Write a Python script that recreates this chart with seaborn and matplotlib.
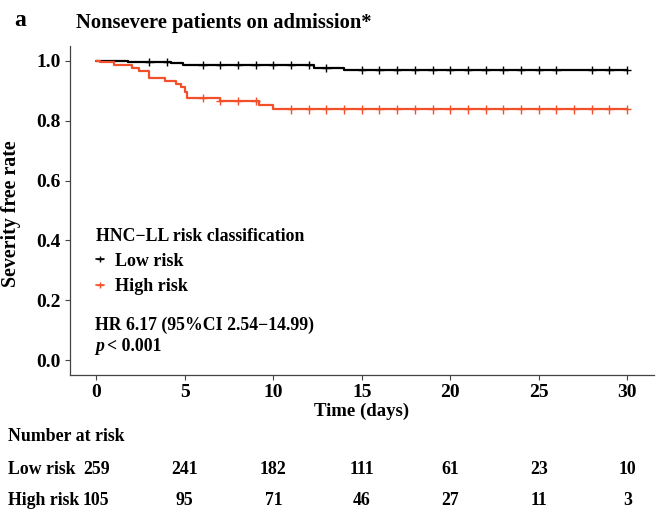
import numpy as np
import pandas as pd
import seaborn as sns
import matplotlib.pyplot as plt
from matplotlib.lines import Line2D
from matplotlib.transforms import blended_transform_factory

# survival curves (step points)
low_times = [0, 1.8, 4.2, 4.9, 12.3, 14.0, 30]
low_surv = [1.0, 0.997, 0.994, 0.986, 0.976, 0.969, 0.969]
high_times = [0, 0.2, 1.0, 2.0, 2.4, 3.0, 3.9, 4.5, 4.8, 5.0, 5.1, 7.0, 9.2, 10.0, 30]
high_surv = [1.0, 0.995, 0.985, 0.976, 0.967, 0.943, 0.933, 0.924, 0.914, 0.895,
             0.876, 0.867, 0.852, 0.838, 0.838]

# censoring times
low_censor = [3, 4, 6, 7, 8, 9, 10, 11, 12, 13, 15, 16, 17, 18, 19, 20, 21, 22,
              23, 24, 25, 26, 28, 29, 30]
high_censor = [6, 7, 8, 9, 11, 12, 13, 14, 15, 16, 17, 18, 19, 20, 21, 22, 23,
               24, 25, 26, 27, 28, 29, 30]

# number at risk table
risk_times = [0, 5, 10, 15, 20, 25, 30]
low_at_risk = [259, 241, 182, 111, 61, 23, 10]
high_at_risk = [105, 95, 71, 46, 27, 11, 3]

groups = ['Low risk', 'High risk']
colors = {'Low risk': 'black', 'High risk': '#F1502A'}

curves = pd.concat([
    pd.DataFrame({'time': low_times, 'surv': low_surv, 'group': 'Low risk'}),
    pd.DataFrame({'time': high_times, 'surv': high_surv, 'group': 'High risk'}),
])


def at(times, surv, c):
    idx = np.searchsorted(times, c, side='right') - 1
    return np.array(surv)[idx]


cens = pd.concat([
    pd.DataFrame({'time': low_censor, 'surv': at(low_times, low_surv, low_censor),
                  'group': 'Low risk'}),
    pd.DataFrame({'time': high_censor, 'surv': at(high_times, high_surv, high_censor),
                  'group': 'High risk'}),
])

sns.set_style('ticks')
plt.rcParams['font.family'] = ['Liberation Serif', 'DejaVu Serif']
plt.rcParams['font.weight'] = 'bold'
plt.rcParams['text.color'] = 'black'
plt.rcParams['axes.labelcolor'] = 'black'

fig = plt.figure(figsize=(6.59, 5.11), dpi=100)
ax = fig.add_axes([0.106, 0.266, 0.886, 0.644])

sns.lineplot(data=curves, x='time', y='surv', hue='group', palette=colors,
             drawstyle='steps-post', estimator=None, sort=True, linewidth=1.6,
             legend=False, ax=ax)
sns.scatterplot(data=cens, x='time', y='surv', hue='group', palette=colors,
                marker='+', s=36, linewidth=1.0, legend=False, ax=ax)

ax.set_xlim(-1.5, 31.5)
ax.set_ylim(-0.05, 1.05)
ax.set_xticks(risk_times)
ax.set_yticks([0.0, 0.2, 0.4, 0.6, 0.8, 1.0])
ax.set_yticklabels([f'{v:.1f}' for v in [0.0, 0.2, 0.4, 0.6, 0.8, 1.0]])
ax.tick_params(labelsize=14, length=3.5, width=0.8, colors='#444444', labelcolor='black', pad=3)
for s in ['left', 'bottom']:
    ax.spines[s].set_color('#444444')
    ax.spines[s].set_linewidth(0.9)
sns.despine(ax=ax)

ax.set_xlabel('Time (days)', fontsize=13.5, fontweight='bold', labelpad=1)
ax.set_ylabel('Severity free rate', fontsize=14.4, fontweight='bold')
ax.yaxis.set_label_coords(-0.083, 0.49)

fig.text(0.022, 0.96, 'a', fontsize=17, fontweight='bold', va='center')
fig.text(0.116, 0.955, 'Nonsevere patients on admission*', fontsize=14.8,
         fontweight='bold', va='center')

handles = [Line2D([], [], color=colors[g], marker='+', markersize=5, lw=1.2) for g in groups]
leg = ax.legend(handles, groups, title='HNC\u2212LL risk classification', loc='upper left',
                bbox_to_anchor=(0.032, 0.47), frameon=False, fontsize=13,
                title_fontproperties={'weight': 'bold', 'size': 12.8},
                alignment='left', handlelength=0.45, handletextpad=0.6,
                labelspacing=0.45, borderaxespad=0)

ax.text(0.043, 0.15, 'HR 6.17 (95%CI 2.54\u221214.99)', transform=ax.transAxes,
        fontsize=12.8, fontweight='bold', va='center')
ax.text(0.043, 0.088, 'p', transform=ax.transAxes, fontsize=12.8, fontweight='bold',
        fontstyle='italic', va='center')
ax.text(0.064, 0.088, '< 0.001', transform=ax.transAxes, fontsize=12.8,
        fontweight='bold', va='center')

# number at risk table
tr = blended_transform_factory(ax.transData, fig.transFigure)
fig.text(0.012, 0.145, 'Number at risk', fontsize=12.8, fontweight='bold', va='center')
rows = [('Low risk', low_at_risk, 0.082), ('High risk', high_at_risk, 0.02)]
for name, vals, y in rows:
    fig.text(0.012, y, name, fontsize=12.8, fontweight='bold', va='center')
    for t, v in zip(risk_times, vals):
        ax.text(t, y, str(v), transform=tr, fontsize=12.8, fontweight='bold',
                ha='center', va='center', clip_on=False)

fig.savefig('out.png', dpi=100)
